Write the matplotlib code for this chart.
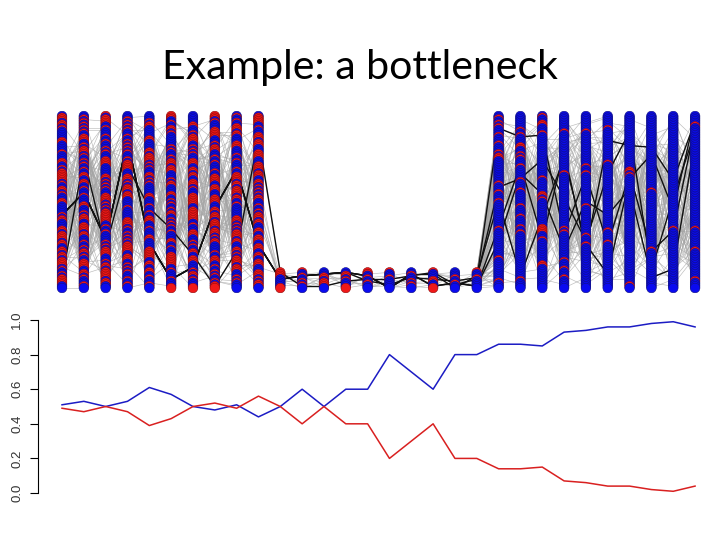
import numpy as np
import matplotlib
matplotlib.use("Agg")
import matplotlib.pyplot as plt
from matplotlib.collections import LineCollection

# --- data ---
generations = list(range(1, 31))
pop_size = [100] * 10 + [10] * 10 + [100] * 10
blue_freq = [0.51, 0.53, 0.50, 0.53, 0.61, 0.57, 0.50, 0.48, 0.51, 0.44,
             0.50, 0.60, 0.50, 0.60, 0.60, 0.80, 0.70, 0.60, 0.80, 0.80,
             0.86, 0.86, 0.85, 0.93, 0.94, 0.96, 0.96, 0.98, 0.99, 0.96]
red_freq = [0.49, 0.47, 0.50, 0.47, 0.39, 0.43, 0.50, 0.52, 0.49, 0.56,
            0.50, 0.40, 0.50, 0.40, 0.40, 0.20, 0.30, 0.40, 0.20, 0.20,
            0.14, 0.14, 0.15, 0.07, 0.06, 0.04, 0.04, 0.02, 0.01, 0.04]
y_ticks = [0.0, 0.2, 0.4, 0.6, 0.8, 1.0]
n_traced = 5  # lineages of the last generation followed back (black)

BLUE_FACE, BLUE_EDGE = "#0a0af0", "#10107a"
RED_FACE, RED_EDGE = "#f01818", "#8a0a0a"


def mix(a, b):
    # small deterministic hash, only used to shuffle the order inside a column
    h = (a * 2654435761 + b * 40503 + 12345) % 4294967296
    h = (h ^ (h >> 13)) * 1274126177 % 4294967296
    return h ^ (h >> 16)


# colour of every individual (True = blue), count taken from blue_freq
colours = []
for g, n in enumerate(pop_size):
    n_blue = int(round(blue_freq[g] * n))
    keys = [mix(i + 1, g + 1) for i in range(n)]
    order = np.argsort(keys)
    col = np.zeros(n, dtype=bool)
    col[order[:n_blue]] = True
    colours.append(col)

# parent of every individual in the previous generation (same allele)
parents = [None]
for g in range(1, len(pop_size)):
    par = np.zeros(pop_size[g], dtype=int)
    for c in (True, False):
        kids = np.where(colours[g] == c)[0]
        cand = np.where(colours[g - 1] == c)[0]
        for j, kid in enumerate(kids):
            par[kid] = cand[mix(j + 7, g * 31 + int(c)) % len(cand)]
    parents.append(par)


def lineage(i):
    path = [i]
    for g in range(len(pop_size) - 1, 0, -1):
        i = parents[g][i]
        path.append(i)
    return path[::-1]


# follow lineages; at most two of them survive back through the bottleneck
paths, roots = [], []
for start in range(99, -1, -3):
    p = lineage(start)
    if p[10] not in roots:
        if len(roots) == 2:
            continue
        roots.append(p[10])
    if any(q[20] == p[20] for q in paths):
        continue
    paths.append(p)
    if len(paths) == n_traced:
        break

fig = plt.figure(figsize=(7.2, 5.4), dpi=100)
fig.text(0.5, 0.853, "Example: a bottleneck", ha="center", va="baseline",
         fontsize=29.5, family="Lato", color="black")

# --- top panel: genealogy ---
ax = fig.add_axes([0.0558, 0.457, 0.9399, 0.3378])
ax.set_xlim(0, 31)
ax.set_ylim(-3, 102)
ax.axis("off")

segs = []
for g in range(1, len(pop_size)):
    for i in range(pop_size[g]):
        segs.append([(generations[g], i), (generations[g - 1], parents[g][i])])
ax.add_collection(LineCollection(segs, colors="#a4a4a4", linewidths=0.45,
                                 alpha=0.75, zorder=1))

black = []
for p in paths:
    for g in range(1, len(pop_size)):
        black.append([(generations[g - 1], p[g - 1]), (generations[g], p[g])])
ax.add_collection(LineCollection(black, colors="#111111", linewidths=1.0,
                                 zorder=2))

for g, n in enumerate(pop_size):
    idx = np.arange(n)[::-1]  # top first, lower dots drawn over upper ones
    face = [BLUE_FACE if colours[g][i] else RED_FACE for i in idx]
    edge = [BLUE_EDGE if colours[g][i] else RED_EDGE for i in idx]
    ax.scatter([generations[g]] * n, idx, s=48, c=face, edgecolors=edge,
               linewidths=0.4, zorder=3)

# --- bottom panel: allele frequencies ---
ax2 = fig.add_axes([0.0558, 0.0870, 0.9399, 0.3204])
ax2.set_xlim(0, 31)
ax2.set_ylim(0, 1)
ax2.plot(generations, blue_freq, color="#1c1cc4", lw=1.1, clip_on=False)
ax2.plot(generations, red_freq, color="#d92020", lw=1.1, clip_on=False)
for s in ("top", "right", "bottom"):
    ax2.spines[s].set_visible(False)
ax2.spines["left"].set_position(("data", -0.1))
ax2.set_xticks([])
ax2.set_yticks(y_ticks)
ax2.set_yticklabels([f"{v:.1f}" for v in y_ticks], rotation=90, va="center",
                    family="Liberation Sans", fontsize=9.5, color="#333333")
ax2.tick_params(axis="y", length=5.5, width=0.8, pad=5)

fig.savefig("out.png", dpi=100)
